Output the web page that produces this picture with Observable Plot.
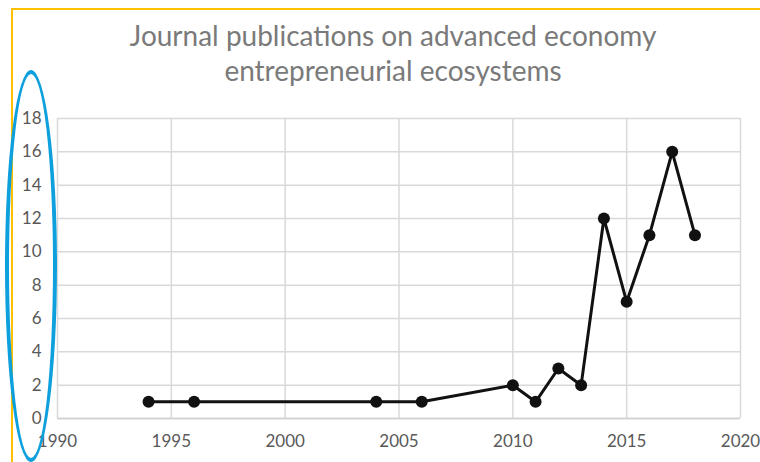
<!DOCTYPE html>
<html><head><meta charset="utf-8">
<script src="https://cdn.jsdelivr.net/npm/d3@7"></script>
<script src="https://cdn.jsdelivr.net/npm/@observablehq/plot@0.6"></script>
<style>
html,body{margin:0;padding:0;background:#fff;}
#wrap{position:relative;width:760px;height:462px;overflow:hidden;font-family:Lato,"Open Sans",sans-serif;}
#title{position:absolute;left:0;top:18px;width:786px;text-align:center;color:#7a7a7a;font-size:28px;line-height:35px;}
#frame{position:absolute;left:11px;top:8px;width:800px;height:500px;border-left:2px solid #ffc000;border-top:2px solid #ffc000;box-sizing:border-box;}
#ellipse{position:absolute;left:5px;top:70px;width:52px;height:392px;border:4px solid #0ea0dc;border-radius:50%;box-sizing:border-box;}
#chart{position:absolute;left:0;top:0;}
</style></head>
<body><div id="wrap"><div id="chart"></div><div id="frame"></div><div id="title">Journal publications on advanced economy<br>entrepreneurial ecosystems</div><div id="ellipse"></div></div>
<script>
const years = [1994, 1996, 2004, 2006, 2010, 2011, 2012, 2013, 2014, 2015, 2016, 2017, 2018];
const publications = [1, 1, 1, 1, 2, 1, 3, 2, 12, 7, 11, 16, 11];
const xTicks = [1990, 1995, 2000, 2005, 2010, 2015, 2020];
const yTicks = [0, 2, 4, 6, 8, 10, 12, 14, 16, 18];
const data = years.map((y, i) => ({year: y, value: publications[i]}));
const chart = Plot.plot({
  width: 760, height: 462,
  marginLeft: 57, marginRight: 20, marginTop: 118, marginBottom: 44,
  style: {fontFamily: "Lato, 'Open Sans', sans-serif", fontSize: "17px", color: "#595959", background: "transparent"},
  x: {domain: [1990, 2020], ticks: xTicks, tickFormat: d => String(d), tickSize: 0, tickPadding: 16, label: null},
  y: {domain: [0, 18], ticks: yTicks, tickSize: 0, tickPadding: 16, label: null},
  marks: [
    Plot.gridX(xTicks, {stroke: "#d9d9d9", strokeOpacity: 1, strokeWidth: 1.5}),
    Plot.gridY(yTicks, {stroke: "#d9d9d9", strokeOpacity: 1, strokeWidth: 1.5}),
    Plot.ruleY([0], {stroke: "#cfcfcf", strokeWidth: 1.5}),
    Plot.axisX({ticks: xTicks, tickFormat: d => String(d), tickSize: 0, tickPadding: 16, fill: "#595959"}),
    Plot.axisY({ticks: yTicks, tickSize: 0, tickPadding: 16, fill: "#595959"}),
    Plot.line(data, {x: "year", y: "value", stroke: "#111", strokeWidth: 3}),
    Plot.dot(data, {x: "year", y: "value", r: 6, fill: "#111", stroke: "none"})
  ]
});
document.getElementById("chart").appendChild(chart);
</script></body></html>
